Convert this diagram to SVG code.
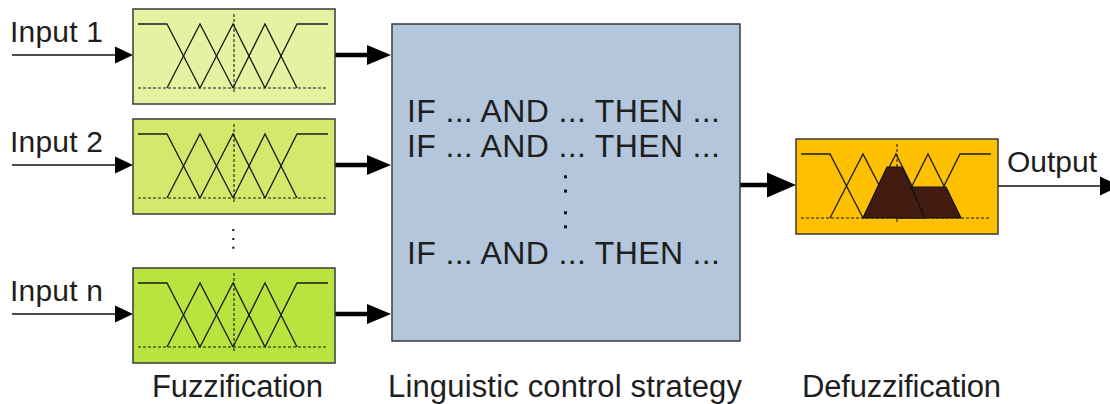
<svg xmlns="http://www.w3.org/2000/svg" width="1110" height="404" viewBox="0 0 1110 404">
<style>
.box{stroke:#3a3a3a;stroke-width:1.5}
.mf{fill:none;stroke:#1a1a1a;stroke-width:1.3}
.dash{fill:none;stroke:#1a1a1a;stroke-width:1.1;stroke-dasharray:3,2}
.lbl{font-family:"Liberation Sans",Arial,sans-serif;fill:#1e1e1e}
.thin{stroke:#111;stroke-width:1.6;fill:none}
.thick{stroke:#000;stroke-width:4.5;fill:none}
.head{fill:#000}
.dot{fill:#111}
.mass{fill:#431b10;stroke:#111;stroke-width:1.2;stroke-linejoin:round}
</style>
<defs>
<g id="mfset">
<path class="mf" d="M5,15 H34 L67,79"/>
<path class="mf" d="M34,79 L67,15 L100,79"/>
<path class="mf" d="M67,79 L100,15 L132,79"/>
<path class="mf" d="M100,79 L132,15 L164,79"/>
<path class="mf" d="M132,79 L164,15 H195"/>
<path class="dash" d="M5,79 H195"/>
<path class="dash" d="M101,5 V83"/>
</g>
</defs>

<g id="connectors">
<line class="thin" x1="12" y1="55" x2="117" y2="55"/>
<polygon class="head" points="115,46.5 133,55 115,63.5"/>
<line class="thin" x1="12" y1="165" x2="117" y2="165"/>
<polygon class="head" points="115,156.5 133,165 115,173.5"/>
<line class="thin" x1="12" y1="314" x2="117" y2="314"/>
<polygon class="head" points="115,305.5 133,314 115,322.5"/>

<line class="thick" x1="335" y1="55" x2="370" y2="55"/>
<polygon class="head" points="367,45 391,55 367,65"/>
<line class="thick" x1="335" y1="165" x2="370" y2="165"/>
<polygon class="head" points="367,155 391,165 367,175"/>
<line class="thick" x1="335" y1="314" x2="370" y2="314"/>
<polygon class="head" points="367,304 391,314 367,324"/>

<line class="thick" x1="740" y1="185" x2="770" y2="185"/>
<polygon class="head" points="767,172.5 796,185 767,197.5"/>

<line class="thin" x1="998" y1="186" x2="1102" y2="186"/>
<polygon class="head" points="1100,176.5 1120,186 1100,195.5"/>
</g>

<g id="input-labels">
<text class="lbl" x="10" y="42" font-size="30" textLength="93">Input 1</text>
<text class="lbl" x="10" y="152" font-size="30" textLength="93">Input 2</text>
<text class="lbl" x="10" y="301" font-size="30" textLength="93">Input n</text>
</g>

<g id="fuzz1">
<rect class="box" x="133" y="9" width="202" height="95" fill="#e6f2a2"/>
<use href="#mfset" transform="translate(133,9)"/>
</g>
<g id="fuzz2">
<rect class="box" x="133" y="119" width="202" height="95" fill="#d5e86b"/>
<use href="#mfset" transform="translate(133,119)"/>
</g>
<g id="fuzz-dots">
<rect class="dot" x="232.3" y="229" width="2" height="2"/>
<rect class="dot" x="232.3" y="238" width="2" height="2"/>
<rect class="dot" x="232.3" y="246.7" width="2" height="2"/>
</g>
<g id="fuzz3">
<rect class="box" x="133" y="268" width="202" height="95" fill="#b9e33e"/>
<use href="#mfset" transform="translate(133,268)"/>
</g>

<g id="rules">
<rect class="box" x="392" y="24" width="348" height="317" fill="#b4c6dc"/>
<text class="lbl" x="407" y="122" font-size="32" textLength="313">IF ... AND ... THEN ...</text>
<text class="lbl" x="407" y="157" font-size="32" textLength="313">IF ... AND ... THEN ...</text>
<rect class="dot" x="564" y="175.3" width="3" height="3"/>
<rect class="dot" x="564" y="189.6" width="3" height="3"/>
<rect class="dot" x="564" y="211.3" width="3" height="3"/>
<rect class="dot" x="564" y="225.3" width="3" height="3"/>
<text class="lbl" x="407" y="264" font-size="32" textLength="313">IF ... AND ... THEN ...</text>
</g>

<g id="defuzz">
<rect class="box" x="796" y="139" width="202" height="95" fill="#ffc000"/>
<use href="#mfset" transform="translate(796,139)"/>
<polygon class="mass" points="896,218 912,187 946,187 961,218"/>
<polygon class="mass" points="863,218 887,167 902,167 925,218"/>
</g>

<g id="output-label">
<text class="lbl" x="1007" y="172" font-size="30">Output</text>
</g>

<g id="captions">
<text class="lbl" x="152" y="397" font-size="31" textLength="171">Fuzzification</text>
<text class="lbl" x="388" y="397" font-size="31" textLength="354">Linguistic control strategy</text>
<text class="lbl" x="802" y="397" font-size="31" textLength="199">Defuzzification</text>
</g>
</svg>
